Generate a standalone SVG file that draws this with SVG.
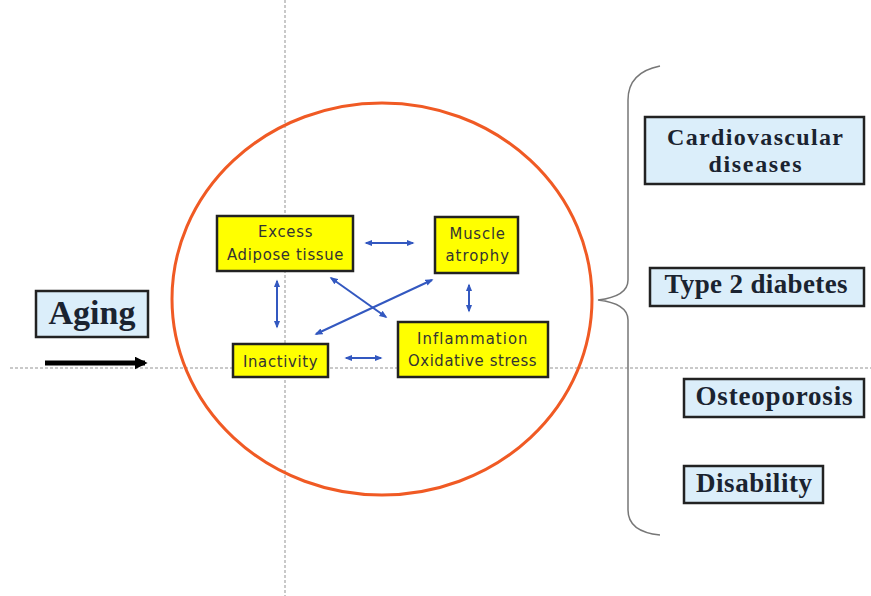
<svg xmlns="http://www.w3.org/2000/svg" width="871" height="596" viewBox="0 0 871 596">
<style>
.guide{stroke:#b8b8b8;stroke-width:1.5;stroke-dasharray:3 2;fill:none}
.ybox{fill:#ffff00;stroke:#222;stroke-width:2.5}
.bbox{fill:#dbeefa;stroke:#222;stroke-width:2.5}
.yt{font-family:"DejaVu Sans Condensed","DejaVu Sans",sans-serif;font-size:16.5px;fill:#333;text-anchor:middle;letter-spacing:-0.5px}
.bt{font-family:"Liberation Serif","Times New Roman",serif;font-weight:bold;font-size:27px;fill:#1a2330;text-anchor:middle}
.con{stroke:#3358c0;stroke-width:2;fill:none;marker-start:url(#ah);marker-end:url(#ah)}
</style>
<defs>
<marker id="ah" viewBox="0 0 10 10" refX="8" refY="5" markerWidth="4" markerHeight="4" orient="auto-start-reverse"><path d="M0,1 L10,5 L0,9 z" fill="#3358c0"/></marker>
<marker id="bh" viewBox="0 0 10 10" refX="8" refY="5" markerWidth="2.6" markerHeight="2.6" orient="auto"><path d="M0,0 L10,5 L0,10 z" fill="#000"/></marker>
</defs>
<rect width="871" height="596" fill="#fff"/>
<g id="guides">
<line class="guide" x1="285" y1="0" x2="285" y2="596"/>
<line class="guide" x1="10" y1="368" x2="871" y2="368"/>
</g>
<g id="circle"><ellipse cx="382" cy="299" rx="210" ry="196" fill="none" stroke="#f05a24" stroke-width="3"/></g>
<g id="brace"><path d="M660,66 C640,70 628,80 628,100 L628,280 C628,292 615,298 598,300 C615,302 628,308 628,320 L628,510 C628,526 640,533 660,535" fill="none" stroke="#777" stroke-width="1.5"/></g>
<g id="aging">
<rect class="bbox" x="36" y="291" width="112" height="46"/>
<text class="bt" x="92" y="324" style="font-size:34px">Aging</text>
</g>
<g id="aging-arrow"><line x1="45" y1="363" x2="145" y2="363" stroke="#000" stroke-width="5" marker-end="url(#bh)"/></g>
<g id="excess">
<rect class="ybox" x="217" y="216" width="136" height="55"/>
<text class="yt" x="285" y="237" textLength="54">Excess</text>
<text class="yt" x="285" y="260" textLength="116">Adipose tissue</text>
</g>
<g id="muscle">
<rect class="ybox" x="435" y="217" width="83" height="56"/>
<text class="yt" x="477" y="239" textLength="55">Muscle</text>
<text class="yt" x="477" y="261" textLength="63">atrophy</text>
</g>
<g id="inflammation">
<rect class="ybox" x="398" y="322" width="150" height="55"/>
<text class="yt" x="472" y="344" textLength="110">Inflammation</text>
<text class="yt" x="472" y="366" textLength="128">Oxidative stress</text>
</g>
<g id="inactivity">
<rect class="ybox" x="233" y="344" width="95" height="33"/>
<text class="yt" x="280" y="367" textLength="74">Inactivity</text>
</g>
<g id="connectors">
<line class="con" x1="366" y1="243" x2="413" y2="243"/>
<line class="con" x1="277" y1="281" x2="277" y2="327"/>
<line class="con" x1="469" y1="285" x2="469" y2="311"/>
<line class="con" x1="346" y1="358" x2="381" y2="358"/>
<line class="con" x1="331" y1="278" x2="386" y2="317"/>
<line class="con" x1="316" y1="334" x2="432" y2="280"/>
</g>
<g id="cardio">
<rect class="bbox" x="645" y="117" width="219" height="67"/>
<text class="bt" x="755" y="145" textLength="176" style="font-size:24px">Cardiovascular</text>
<text class="bt" x="755" y="172" style="font-size:24px" textLength="93">diseases</text>
</g>
<g id="diabetes">
<rect class="bbox" x="650" y="268" width="214" height="38"/>
<text class="bt" x="756" y="293" textLength="183">Type 2 diabetes</text>
</g>
<g id="osteo">
<rect class="bbox" x="684" y="379" width="180" height="38"/>
<text class="bt" x="774" y="405" textLength="157">Osteoporosis</text>
</g>
<g id="disability">
<rect class="bbox" x="684" y="466" width="139" height="37"/>
<text class="bt" x="754" y="492" textLength="116">Disability</text>
</g>
</svg>
